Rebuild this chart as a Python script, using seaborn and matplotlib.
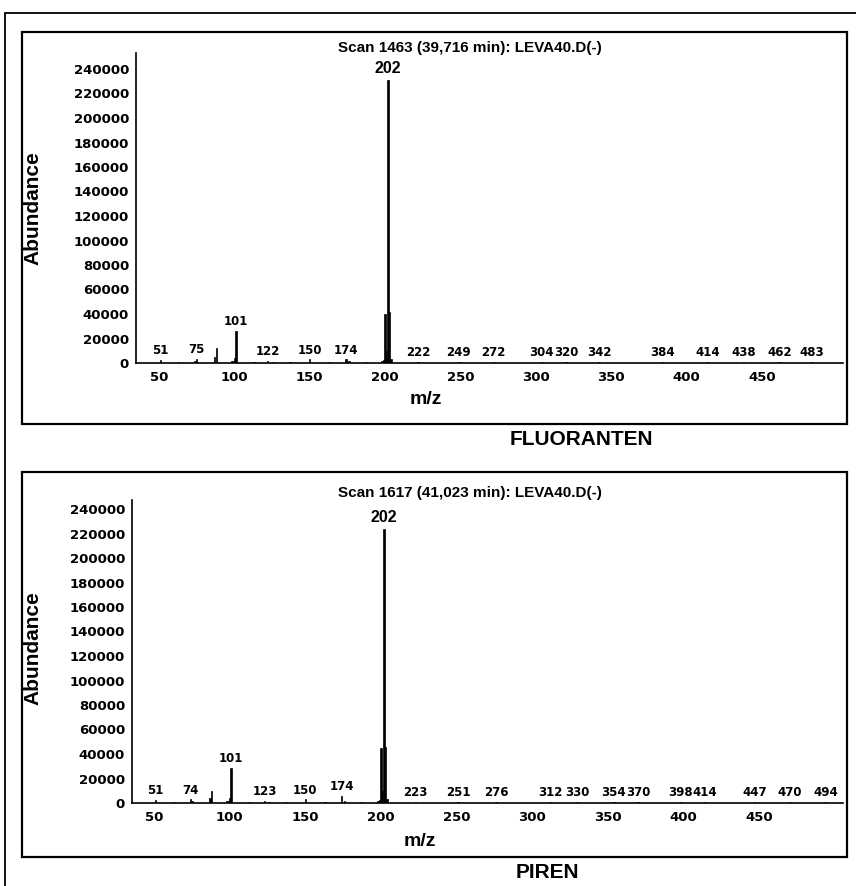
import numpy as np
import pandas as pd
import matplotlib
matplotlib.use("Agg")
import matplotlib.pyplot as plt
import seaborn as sns
from matplotlib.patches import Rectangle

# ---------------- data ----------------
fluo_mz = [51, 63, 74, 75, 87, 88, 98, 99, 100, 101, 113, 122, 126, 137, 150, 163,
           174, 176, 187, 198, 199, 200, 201, 202, 203, 204, 222, 249, 272, 304,
           320, 342, 384, 414, 438, 462, 483]
fluo_ab = [2500, 900, 2000, 3500, 5000, 12000, 1500, 1500, 4000, 26000, 800, 2000,
           800, 700, 3000, 800, 3000, 2000, 900, 2000, 2500, 40000, 10000, 231000,
           41500, 3000, 1200, 1000, 1000, 800, 800, 800, 600, 600, 600, 600, 600]
fluo_labels = [51, 75, 101, 122, 150, 174, 202, 222, 249, 272, 304, 320, 342,
               384, 414, 438, 462, 483]

piren_mz = [51, 63, 74, 75, 87, 88, 98, 99, 100, 101, 113, 123, 126, 137, 150, 163,
            174, 176, 187, 198, 199, 200, 201, 202, 203, 204, 223, 251, 276, 312,
            330, 354, 370, 398, 414, 447, 470, 494]
piren_ab = [2500, 900, 3000, 2000, 4000, 10000, 1500, 1500, 4000, 28500, 800, 2000,
            800, 700, 3000, 800, 6000, 2000, 900, 2000, 2500, 45000, 10000, 223500,
            45500, 3000, 1200, 1000, 1000, 800, 800, 800, 800, 600, 600, 600, 600, 600]
piren_labels = [51, 74, 101, 123, 150, 174, 202, 223, 251, 276, 312, 330, 354,
                370, 398, 414, 447, 470, 494]

titles = ["Scan 1463 (39,716 min): LEVA40.D(-)", "Scan 1617 (41,023 min): LEVA40.D(-)"]
names = ["FLUORANTEN", "PIREN"]
y_ticks = list(range(0, 240001, 20000))
x_ticks = [50, 100, 150, 200, 250, 300, 350, 400, 450]
x_ticklabels = ["50", "100", "150", "200", "250", "300", "350", "400", "450"]

# ---------------- style ----------------
sns.set_style("white")
plt.rcParams["font.family"] = ["DejaVu Sans"]
plt.rcParams.update({"text.color": "black", "axes.labelcolor": "black",
                     "xtick.color": "black", "ytick.color": "black",
                     "axes.edgecolor": "black"})

W, H = 856, 886
fig = plt.figure(figsize=(W / 100, H / 100), dpi=100)
fig.patch.set_facecolor("white")


def fx(x):
    return x / W


def fy(y):
    return 1 - y / H


# outer frame (cut by the canvas at right and bottom)
fig.patches.append(Rectangle((fx(5), -0.2), 1.5, fy(13) + 0.2, transform=fig.transFigure,
                             fill=False, lw=1.3, ec="black", zorder=0))

# panel geometry in pixels
panels = [
    dict(box=(22, 32, 847, 424), left=136, y0=363, top=53, right=843, x50=159, ppu=1.507,
         ppy=24.5, title_y=48, ylab=(42, 208), xlab=(426, 400), name=(581, 440),
         mz=fluo_mz, ab=fluo_ab, labels=fluo_labels),
    dict(box=(22, 472, 847, 857), left=132, y0=803, top=500, right=843, x50=154, ppu=1.513,
         ppy=24.5, title_y=493, ylab=(42, 648), xlab=(420, 842), name=(547, 872),
         mz=piren_mz, ab=piren_ab, labels=piren_labels),
]

for i, p in enumerate(panels):
    x0, y0b, x1, y1b = p["box"]
    fig.patches.append(Rectangle((fx(x0), fy(y1b)), fx(x1) - fx(x0), fy(y0b) - fy(y1b),
                                 transform=fig.transFigure, fill=False, lw=1.6,
                                 ec="black", zorder=1))
    ax = fig.add_axes([fx(p["left"]), fy(p["y0"]), fx(p["right"]) - fx(p["left"]),
                       fy(p["top"]) - fy(p["y0"])])
    ax.set_facecolor("none")
    df = pd.DataFrame({"mz": p["mz"], "ab": p["ab"]})
    sns.barplot(data=df, x="mz", y="ab", native_scale=True, color="black",
                width=0.95, errorbar=None, linewidth=0.5, edgecolor="black",
                saturation=1, ax=ax)
    xmin = 50 - (p["x50"] - p["left"]) / p["ppu"]
    xmax = 50 + (p["right"] - p["x50"]) / p["ppu"]
    ymax = (p["y0"] - p["top"]) / p["ppy"] * 20000
    ax.set_xlim(xmin, xmax)
    ax.set_ylim(0, ymax)
    ax.set_xticks(x_ticks)
    ax.set_xticklabels(x_ticklabels)
    ax.set_yticks(y_ticks)
    ax.set_yticklabels([str(v) for v in y_ticks])
    for s in ["top", "right"]:
        ax.spines[s].set_visible(False)
    for s in ["left", "bottom"]:
        ax.spines[s].set_linewidth(1.2)
        ax.spines[s].set_color("black")
    ax.tick_params(axis="both", direction="out", length=3, width=1, color="black",
                   labelsize=9.5, pad=2, labelcolor="black")
    for t in ax.get_xticklabels() + ax.get_yticklabels():
        t.set_fontweight("bold")
    ax.tick_params(axis="x", pad=2.5)

    # peak labels
    ab_of = dict(zip(p["mz"], p["ab"]))
    for m in p["labels"]:
        big = m == 202
        ax.annotate(str(m), xy=(m, ab_of[m]), xytext=(0, 2 if not big else 3),
                    textcoords="offset points", ha="center", va="bottom",
                    fontsize=11.5 if big else 8.5, fontweight="bold", color="black",
                    family="Liberation Sans" if big else "DejaVu Sans")

    ax.set_ylabel("Abundance", fontsize=15, fontweight="bold", family="Liberation Sans",
                  color="black")
    ax.yaxis.set_label_coords((p["ylab"][0] - p["left"]) / (p["right"] - p["left"]),
                              (p["y0"] - p["ylab"][1]) / (p["y0"] - p["top"]))
    ax.set_xlabel("")
    fig.text(fx(p["xlab"][0]), fy(p["xlab"][1]), "m/z", fontsize=14, fontweight="bold",
             family="Liberation Sans", ha="center", va="center", color="black")
    fig.text(fx(470), fy(p["title_y"]), titles[i], fontsize=11, fontweight="bold",
             family="Liberation Sans", ha="center", va="center", color="black")
    fig.text(fx(p["name"][0]), fy(p["name"][1]), names[i], fontsize=15, fontweight="bold",
             family="Liberation Sans", ha="center", va="center", color="black")

fig.savefig("out.png", dpi=100, facecolor="white")
